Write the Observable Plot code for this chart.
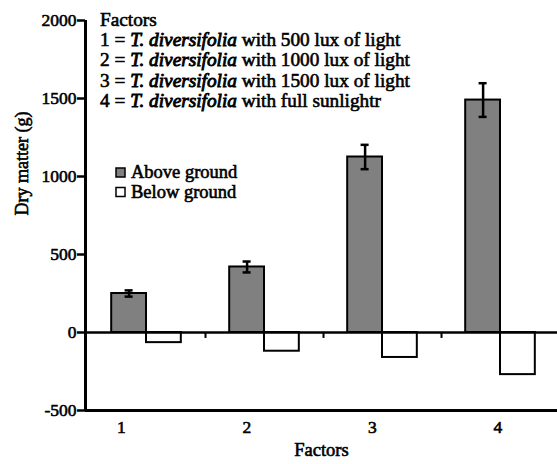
<!DOCTYPE html>
<html>
<head>
<meta charset="utf-8">
<script src="https://cdn.jsdelivr.net/npm/d3@7"></script>
<script src="https://cdn.jsdelivr.net/npm/@observablehq/plot@0.6"></script>
<style>
  html, body { margin: 0; padding: 0; background: white; }
  #chart svg text { font-family: 'Liberation Serif', 'Times New Roman', serif; font-weight: normal;
    stroke: black; stroke-width: 0.6px; paint-order: fill; }
</style>
</head>
<body>
<div id="chart"></div>
<script>
const categories = [1, 2, 3, 4];
const aboveGround = [250, 420, 1125, 1490];
const aboveError = [20, 35, 78, 108];
const belowGround = [-65, -120, -160, -270];
const yTicks = [-500, 0, 500, 1000, 1500, 2000];
const seriesNames = ["Above ground", "Below ground"];
const factorsTitle = "Factors";
const factorLines = [
  ["1 = ", "T. diversifolia", " with 500 lux of light"],
  ["2 = ", "T. diversifolia", " with 1000 lux of light"],
  ["3 = ", "T. diversifolia", " with 1500 lux of light"],
  ["4 = ", "T. diversifolia", " with full sunlightr"]
];
const xTitle = "Factors";
const yTitle = "Dry matter (g)";

const data = categories.map((c, i) => ({
  c, above: aboveGround[i], err: aboveError[i], below: belowGround[i]
}));

const barW = 0.295;
const capW = 0.034;
const FONT = "'Liberation Serif', 'Times New Roman', serif";

const plot = Plot.plot({
  width: 557,
  height: 464,
  marginLeft: 85,
  marginRight: 0,
  marginTop: 20,
  marginBottom: 54,
  x: {domain: [0.483, 4.483], axis: null},
  y: {domain: [-500, 2000], axis: null},
  style: {fontFamily: FONT, fontSize: "17px", color: "black", background: "white"},
  marks: [
    Plot.rectY(data, {x1: d => d.c - barW, x2: d => d.c, y1: 0, y2: d => d.above,
      fill: "#808080", stroke: "black", strokeWidth: 2}),
    Plot.rectY(data, {x1: d => d.c, x2: d => d.c + barW, y1: 0, y2: d => d.below,
      fill: "white", stroke: "black", strokeWidth: 2}),
    Plot.ruleX(data, {x: d => d.c - barW / 2, y1: d => d.above - d.err, y2: d => d.above + d.err,
      stroke: "black", strokeWidth: 2.5}),
    Plot.ruleY(data, {y: d => d.above + d.err, x1: d => d.c - barW / 2 - capW, x2: d => d.c - barW / 2 + capW,
      stroke: "black", strokeWidth: 2.5}),
    Plot.ruleY(data, {y: d => d.above - d.err, x1: d => d.c - barW / 2 - capW, x2: d => d.c - barW / 2 + capW,
      stroke: "black", strokeWidth: 2.5}),
    Plot.ruleY([0], {stroke: "black", strokeWidth: 2.5}),
    Plot.ruleX(categories.slice(0, -1), {x: d => d + 0.5, y1: 0, y2: -38, stroke: "black", strokeWidth: 2}),
    Plot.ruleY([-500], {stroke: "black", strokeWidth: 3}),
    Plot.ruleX([0.483], {y1: -500, y2: 2000, stroke: "black", strokeWidth: 3}),
    Plot.axisY({ticks: yTicks, tickSize: 8, tickPadding: 1, strokeWidth: 2.5, label: null,
      tickFormat: d => String(d), fontSize: 17.5}),
    Plot.text(categories, {x: d => 1.063 * d - 0.275, frameAnchor: "bottom", dy: 17,
      lineAnchor: "middle", fontSize: 17.5}),
    Plot.text([xTitle], {frameAnchor: "bottom", dy: 40, lineAnchor: "middle", fontSize: 18.5}),
    Plot.text([yTitle], {frameAnchor: "left", rotate: -90, dx: -63, fontSize: 18})
  ]
});

const svg = d3.select(plot);
const g = svg.append("g").attr("font-family", FONT).attr("font-size", 19.3)
  .attr("fill", "black").attr("text-anchor", "start");
g.append("text").attr("x", 100).attr("y", 26).text(factorsTitle);
factorLines.forEach((parts, i) => {
  const t = g.append("text").attr("x", 100).attr("y", 46 + i * 20.4);
  t.append("tspan").text(parts[0]);
  t.append("tspan").attr("font-style", "italic").attr("stroke-width", 0.9).text(parts[1]);
  t.append("tspan").text(parts[2]);
});
const legendColors = ["#808080", "white"];
seriesNames.forEach((name, i) => {
  const y = 178 + i * 19.5;
  g.append("rect").attr("x", 116).attr("y", y - 10).attr("width", 9).attr("height", 9)
    .attr("fill", legendColors[i]).attr("stroke", "black").attr("stroke-width", 1.5);
  g.append("text").attr("x", 131).attr("y", y).attr("font-size", 18.5).text(name);
});

document.getElementById("chart").appendChild(plot);
</script>
</body>
</html>
